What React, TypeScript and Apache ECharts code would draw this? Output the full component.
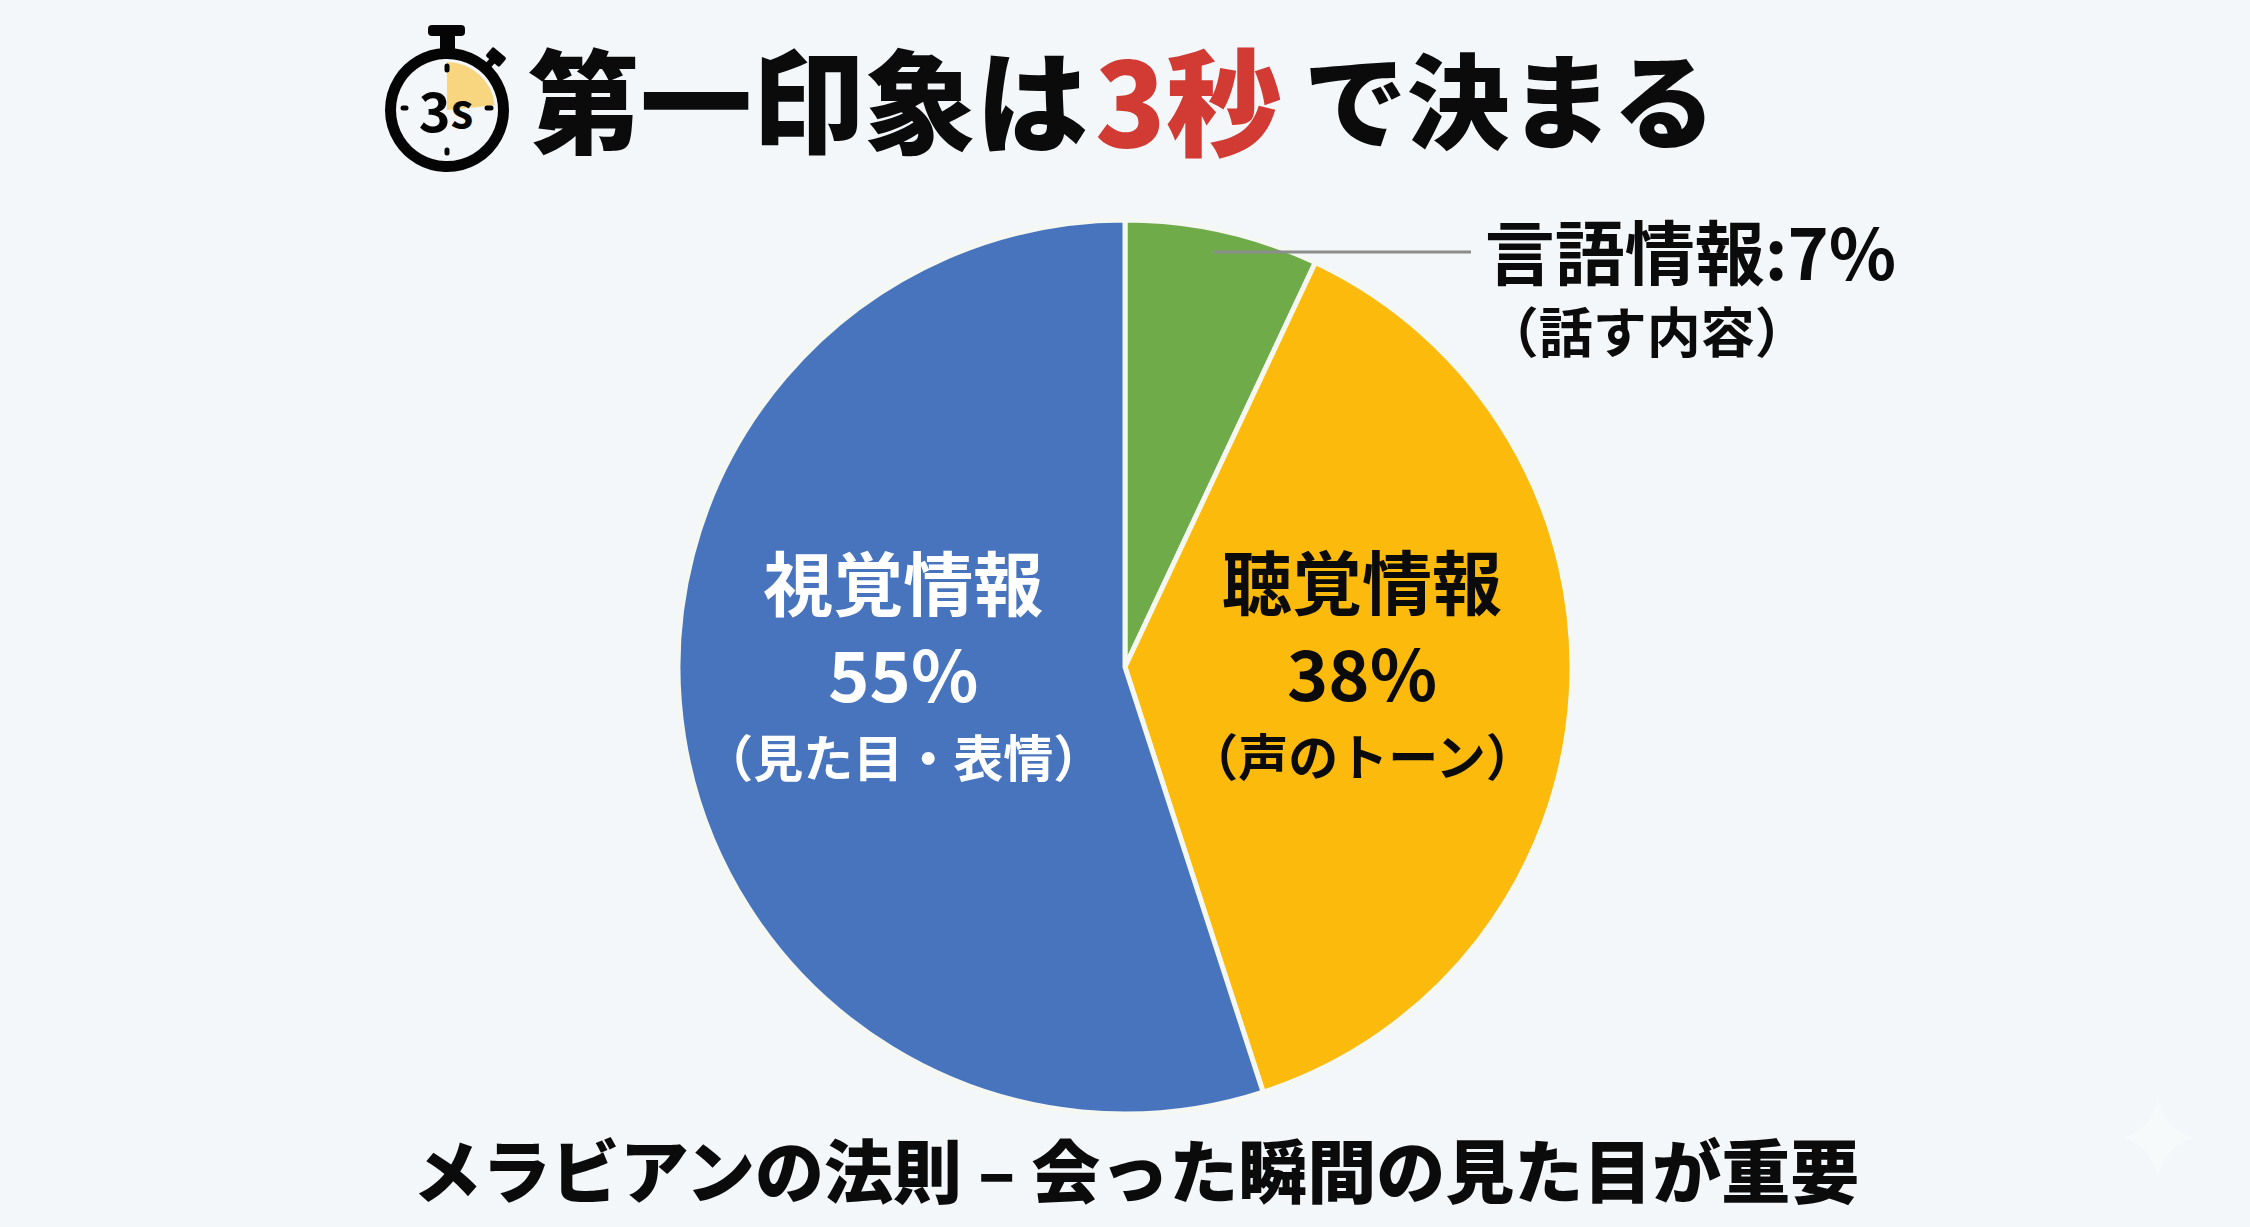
import React, { useEffect, useRef } from "react";
import * as echarts from "echarts";

const FONT = '"Noto Sans CJK JP", "Noto Sans", sans-serif';
const categories = ["言語情報", "聴覚情報", "視覚情報"];
const details = ["（話す内容）", "（声のトーン）", "（見た目・表情）"];
const values = [7, 38, 55];
const colors = ["#70ab4a", "#fcbb0c", "#4774bd"];

echarts.graphic.registerShape(
  "sparkle",
  echarts.graphic.extendPath("M0 -38 C5 -18 16 -6 35 0 C16 6 5 18 0 38 C-5 18 -16 6 -35 0 C-16 -6 -5 -18 0 -38 Z", {})
);

export default function App() {
  const ref = useRef<HTMLDivElement>(null);
  useEffect(() => {
    document.body.style.margin = "0";
    const chart = echarts.init(ref.current!, undefined, { renderer: "svg" });
    const labelShift = [
      { dx: 224, dy: 72 },
      { dx: 11, dy: -19 },
      { dx: 2, dy: -39 },
    ];
    chart.setOption({
      animation: false,
      backgroundColor: "#f3f7f9",
      textStyle: { fontFamily: FONT },
      title: {
        text: "{a|第一印象は}{b|3秒}{c|で決まる}",
        left: 523,
        top: 26,
        textStyle: {
          rich: {
            a: { fontFamily: FONT, fontSize: 112, fontWeight: 900, color: "#0b0b0b", lineHeight: 130 },
            b: { fontFamily: FONT, fontSize: 116, fontWeight: 900, color: "#d23b33", lineHeight: 130, padding: [0, 22, 0, 7] },
            c: { fontFamily: FONT, fontSize: 103, fontWeight: 900, color: "#0b0b0b", lineHeight: 130 },
          },
        },
      },
      graphic: [
        { type: "sector", shape: { cx: 447, cy: 110, r: 48, r0: 0, startAngle: -Math.PI / 2, endAngle: -0.1 }, style: { fill: "#f8d67f" } },
        { type: "circle", shape: { cx: 447, cy: 110, r: 56.5 }, style: { fill: "none", stroke: "#050505", lineWidth: 11 } },
        { type: "rect", shape: { x: 428, y: 25, width: 37, height: 11, r: 4 }, style: { fill: "#050505" } },
        { type: "rect", shape: { x: 440, y: 34, width: 15, height: 16 }, style: { fill: "#050505" } },
        { type: "rect", shape: { x: -9, y: -6, width: 18, height: 12, r: 2 }, x: 496, y: 57, rotation: -0.7, style: { fill: "#050505" } },
        { type: "line", shape: { x1: 484, y1: 70, x2: 493, y2: 60 }, style: { stroke: "#050505", lineWidth: 7 } },
        { type: "line", shape: { x1: 447, y1: 66, x2: 447, y2: 70 }, style: { stroke: "#050505", lineWidth: 5, lineCap: "round" } },
        { type: "line", shape: { x1: 447, y1: 150, x2: 447, y2: 153 }, style: { stroke: "#050505", lineWidth: 5, lineCap: "round" } },
        { type: "line", shape: { x1: 403, y1: 108, x2: 406, y2: 108 }, style: { stroke: "#050505", lineWidth: 5, lineCap: "round" } },
        { type: "line", shape: { x1: 487, y1: 108, x2: 491, y2: 108 }, style: { stroke: "#050505", lineWidth: 5, lineCap: "round" } },
        {
          type: "text",
          x: 446,
          y: 108,
          style: {
            text: "{a|3}{b|s}",
            align: "center",
            verticalAlign: "middle",
            rich: {
              a: { fontFamily: FONT, fontSize: 54, fontWeight: 700, fill: "#050505" },
              b: { fontFamily: FONT, fontSize: 46, fontWeight: 700, fill: "#050505" },
            },
          },
        },
        { type: "line", z: 10, shape: { x1: 1214, y1: 252, x2: 1471, y2: 252 }, style: { stroke: "#8a8d8c", lineWidth: 3 } },
        {
          type: "text",
          x: 1136,
          y: 1168,
          style: {
            text: "メラビアンの法則 – 会った瞬間の見た目が重要",
            align: "center",
            verticalAlign: "middle",
            fontFamily: FONT,
            fontSize: 69,
            fontWeight: 900,
            fill: "#0b0b0b",
          },
        },
        { type: "sparkle", x: 2158, y: 1138, style: { fill: "#f7fafb" } },
      ],
      series: [
        {
          type: "pie",
          center: [1125, 667],
          radius: [0, 447],
          startAngle: 90,
          clockwise: true,
          silent: true,
          itemStyle: { borderColor: "#f4f7f2", borderWidth: 5 },
          labelLine: { show: false },
          labelLayout: (params: any) => labelShift[params.dataIndex],
          data: values.map((v, i) => ({
            value: v,
            name: categories[i],
            itemStyle: { color: colors[i] },
            label:
              i === 0
                ? {
                    show: true,
                    position: "outside",
                    formatter: `{t|${categories[i]}:${v}%}\n{d|${details[i]}}`,
                    align: "left",
                    rich: {
                      t: { fontFamily: FONT, fontSize: 70, fontWeight: 700, color: "#0b0b0b", lineHeight: 82, align: "left" },
                      d: { fontFamily: FONT, fontSize: 54, fontWeight: 700, color: "#0b0b0b", lineHeight: 78, align: "left" },
                    },
                  }
                : {
                    show: true,
                    position: "inside",
                    formatter: `{t|${categories[i]}}\n{p|${v}%}\n{d|${details[i]}}`,
                    rich: {
                      t: { fontFamily: FONT, fontSize: 70, fontWeight: 700, color: i === 2 ? "#ffffff" : "#0b0b0b", lineHeight: 93 },
                      p: { fontFamily: FONT, fontSize: 70, fontWeight: 700, color: i === 2 ? "#ffffff" : "#0b0b0b", lineHeight: 90 },
                      d: { fontFamily: FONT, fontSize: 50, fontWeight: 700, color: i === 2 ? "#ffffff" : "#0b0b0b", lineHeight: 76 },
                    },
                  },
          })),
        },
      ],
    });
    return () => chart.dispose();
  }, []);
  return <div ref={ref} style={{ position: "fixed", left: 0, top: 0, width: 2250, height: 1227 }} />;
}
